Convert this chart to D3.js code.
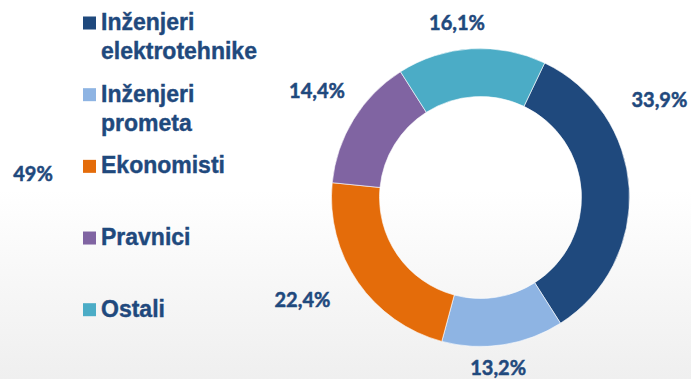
<!DOCTYPE html>
<html>
<head>
<meta charset="utf-8">
<script src="https://cdn.jsdelivr.net/npm/d3@7"></script>
<style>
  html, body { margin: 0; padding: 0; background: #fff; }
  svg { display: block; }
</style>
</head>
<body>
<svg id="chart" width="691" height="379"></svg>
<script>
// Share of employees by profession
const categories = ["Inženjeri elektrotehnike", "Inženjeri prometa", "Ekonomisti", "Pravnici", "Ostali"];
const legendLines = [["Inženjeri", "elektrotehnike"], ["Inženjeri", "prometa"], ["Ekonomisti"], ["Pravnici"], ["Ostali"]];
const values = [33.9, 13.2, 22.4, 14.4, 16.1];
const colors = ["#1F497D", "#8EB4E3", "#E46C0A", "#8064A2", "#4BACC6"];
const extraLabel = "49%";

// label anchors around the ring: [angle in degrees clockwise from 12 o'clock, distance from centre]
const labelPlacement = [[61.5, 203.6], [174.1, 171.4], [240.1, 205.4], [303.2, 195.4], [352.3, 175.6]];

const W = 691, H = 379;
const cx = 480.5, cy = 197.5, rOuter = 149, rInner = 101;
const textColor = "#1F497D";
const startDeg = 25.5;

const svg = d3.select("#chart");

// soft grey fade towards the bottom
const defs = svg.append("defs");
const grad = defs.append("linearGradient")
  .attr("id", "bg").attr("x1", 0).attr("y1", 0).attr("x2", 0).attr("y2", 1);
grad.append("stop").attr("offset", "0.5").attr("stop-color", "#ffffff");
grad.append("stop").attr("offset", "1").attr("stop-color", "#efefef");
svg.append("rect").attr("width", W).attr("height", H).attr("fill", "url(#bg)");

const fmt = v => d3.format(".1f")(v).replace(".", ",") + "%";

// donut
const start = startDeg * Math.PI / 180;
const pie = d3.pie().sort(null).value(d => d).startAngle(start).endAngle(start + 2 * Math.PI);
const arcs = pie(values);
const arc = d3.arc().innerRadius(rInner).outerRadius(rOuter);

const g = svg.append("g").attr("transform", `translate(${cx},${cy})`);
g.selectAll("path.slice")
  .data(arcs)
  .join("path")
  .attr("class", "slice")
  .attr("d", arc)
  .attr("fill", (d, i) => colors[i])
  .attr("stroke", "#ffffff")
  .attr("stroke-width", 0.6);

// value labels
const valueText = sel => sel
  .attr("text-anchor", "middle")
  .attr("dy", "0.35em")
  .attr("font-family", "Lato, 'Open Sans', sans-serif")
  .attr("font-weight", 700)
  .attr("font-size", 20)
  .attr("fill", textColor)
  .attr("stroke", textColor)
  .attr("stroke-width", 0.5);

g.selectAll("text.val")
  .data(arcs)
  .join("text")
  .attr("class", "val")
  .attr("x", (d, i) => Math.sin(labelPlacement[i][0] * Math.PI / 180) * labelPlacement[i][1])
  .attr("y", (d, i) => -Math.cos(labelPlacement[i][0] * Math.PI / 180) * labelPlacement[i][1])
  .call(valueText)
  .text(d => fmt(d.value));

svg.append("text")
  .attr("x", 33).attr("y", 174)
  .call(valueText)
  .text(extraLabel);

// legend
const legendY = d3.scalePoint().domain(categories).range([30, 316.7]);
const legend = svg.append("g").selectAll("g")
  .data(categories)
  .join("g")
  .attr("transform", d => `translate(83,${legendY(d)})`);

legend.append("rect")
  .attr("x", 0).attr("y", -13.5)
  .attr("width", 13).attr("height", 13)
  .attr("fill", (d, i) => colors[i]);

legend.append("text")
  .attr("x", 18)
  .attr("font-family", "'Liberation Sans', Arial, sans-serif")
  .attr("font-weight", 700)
  .attr("font-size", 23)
  .attr("fill", textColor)
  .attr("stroke", textColor)
  .attr("stroke-width", 0.4)
  .selectAll("tspan")
  .data((d, i) => legendLines[i])
  .join("tspan")
  .attr("x", 18)
  .attr("dy", (d, j) => j === 0 ? 0 : 29)
  .text(d => d);
</script>
</body>
</html>
